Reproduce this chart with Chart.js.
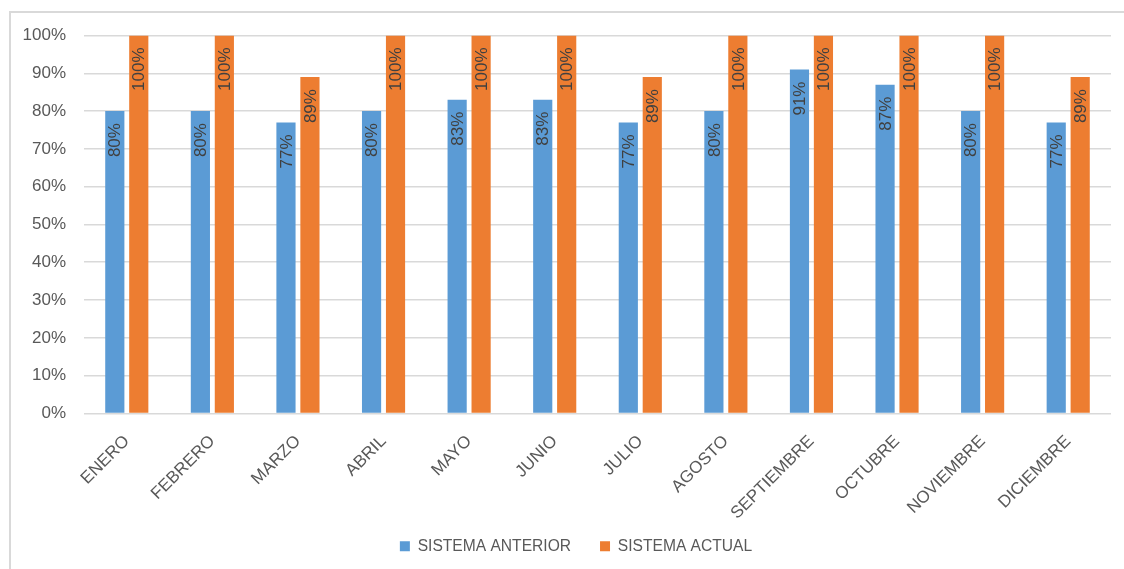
<!DOCTYPE html>
<html>
<head>
<meta charset="utf-8">
<script src="https://cdn.jsdelivr.net/npm/chart.js@4.4.1/dist/chart.umd.min.js"></script>
<style>
  html, body { margin:0; padding:0; background:#fff; width:1124px; height:569px; overflow:hidden; }
  #frame { position:absolute; left:9px; top:11px; width:1300px; height:800px; border-left:2px solid #d9d9d9; border-top:2px solid #d9d9d9; }
  #c { position:absolute; left:0; top:0; }
</style>
</head>
<body>
<div id="frame"></div>
<canvas id="c" width="1124" height="569"></canvas>
<script>
const categories = ['ENERO','FEBRERO','MARZO','ABRIL','MAYO','JUNIO','JULIO','AGOSTO','SEPTIEMBRE','OCTUBRE','NOVIEMBRE','DICIEMBRE'];
const seriesNames = ['SISTEMA ANTERIOR','SISTEMA ACTUAL'];
const anterior = [80, 80, 77, 80, 83, 83, 77, 80, 91, 87, 80, 77];
const actual = [100, 100, 89, 100, 100, 100, 89, 100, 100, 100, 100, 89];
const yTicks = [0,10,20,30,40,50,60,70,80,90,100];

const FONT = 'Liberation Sans, Arial, sans-serif';
const TEXT = '#595959';

const labelPlugin = {
  id: 'barLabels',
  afterDatasetsDraw(chart) {
    const ctx = chart.ctx;
    ctx.save();
    ctx.font = '17px ' + FONT;
    ctx.fillStyle = '#404040';
    chart.data.datasets.forEach((ds, di) => {
      const meta = chart.getDatasetMeta(di);
      meta.data.forEach((bar, i) => {
        ctx.save();
        ctx.translate(bar.x + 1, bar.y + 12);
        ctx.rotate(-Math.PI / 2);
        ctx.textAlign = 'right';
        ctx.textBaseline = 'middle';
        ctx.fillText(ds.data[i] + '%', 0, 0);
        ctx.restore();
      });
    });
    ctx.restore();
  }
};

const LEFT_PAD = 41;

new Chart(document.getElementById('c'), {
  type: 'bar',
  data: {
    labels: categories,
    datasets: [
      { label: seriesNames[0], data: anterior, backgroundColor: '#5B9BD5' },
      { label: seriesNames[1], data: actual, backgroundColor: '#ED7D31' }
    ]
  },
  options: {
    responsive: false,
    animation: false,
    devicePixelRatio: 1,
    categoryPercentage: 0.56,
    barPercentage: 0.8,
    layout: { padding: { left: LEFT_PAD, right: 13, top: 35.5, bottom: 5 } },
    plugins: {
      legend: {
        position: 'bottom',
        labels: {
          boxWidth: 10, boxHeight: 10,
          color: TEXT,
          font: { family: FONT, size: 15.6 },
          padding: 29
        }
      },
      tooltip: { enabled: false }
    },
    scales: {
      x: {
        grid: { display: false, drawTicks: false },
        border: { display: false },
        ticks: {
          color: TEXT, font: { family: FONT, size: 17 },
          maxRotation: 45, minRotation: 45, padding: 18, autoSkip: false
        },
        afterFit(scale) {
          scale.height = 96;
          scale._computeLabelArea = () => undefined;
        }
      },
      y: {
        min: 0, max: 100,
        grid: { color: '#d9d9d9', lineWidth: 1.5, drawTicks: false },
        border: { display: false },
        afterBuildTicks(scale) { scale.ticks = yTicks.map(v => ({ value: v })); },
        ticks: {
          color: TEXT, font: { family: FONT, size: 17 }, padding: 18,
          callback: v => v + '%'
        },
        afterFit(scale) {
          scale.width = 84 - LEFT_PAD;
          scale._computeLabelArea = () => undefined;
        }
      }
    }
  },
  plugins: [labelPlugin]
});
</script>
</body>
</html>
